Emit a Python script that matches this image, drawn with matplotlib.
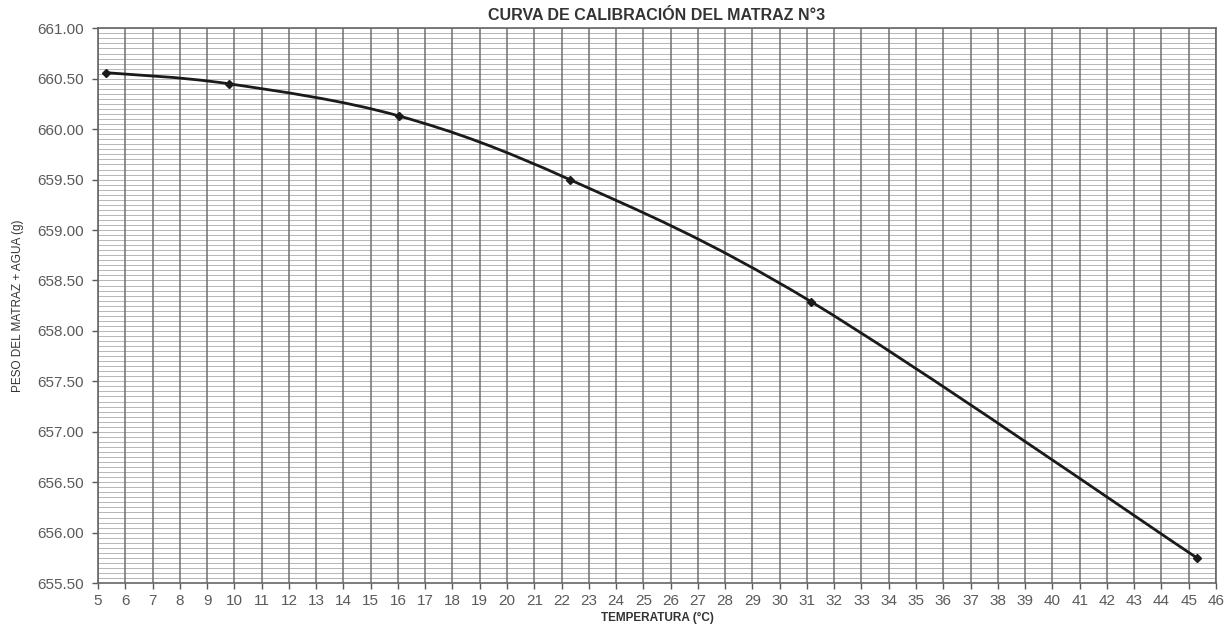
import numpy as np
import matplotlib.pyplot as plt
from matplotlib.path import Path
from matplotlib.patches import PathPatch

plt.rcParams['font.family'] = ['Liberation Sans', 'DejaVu Sans']

temperatura = [5.3, 9.8, 16.05, 22.3, 31.15, 45.3]
peso = [660.56, 660.45, 660.13, 659.50, 658.29, 655.75]

x_ticks = list(range(5, 47))
y_ticks = [655.5 + 0.5 * i for i in range(12)]


def smooth_path(xs, ys, t=1 / 6):
    # excel-like smoothed line: catmull-rom turned into bezier segments
    pts = np.column_stack([xs, ys])
    verts = [pts[0]]
    codes = [Path.MOVETO]
    n = len(pts)
    for i in range(n - 1):
        p0 = pts[i - 1] if i > 0 else pts[i]
        p1 = pts[i]
        p2 = pts[i + 1]
        p3 = pts[i + 2] if i + 2 < n else pts[i + 1]
        c1 = p1 + (p2 - p0) * t
        c2 = p2 - (p3 - p1) * t
        verts += [c1, c2, p2]
        codes += [Path.CURVE4] * 3
    return Path(verts, codes)


fig = plt.figure(figsize=(12.27, 6.29), dpi=100)
ax = fig.add_axes([0.0799, 0.073, 0.9111, 0.882])

ax.set_xlim(5, 46)
ax.set_ylim(655.5, 661)

# graph paper
for yy in np.arange(655.5, 661.001, 0.05):
    ax.axhline(yy, color='#ababab', lw=0.6, zorder=1)
for xx in x_ticks:
    ax.axvline(xx, color='#707070', lw=1.1, zorder=1)

ax.add_patch(PathPatch(smooth_path(temperatura, peso), fill=False,
                       edgecolor='#1a1a1a', lw=2.0, zorder=3))
ax.plot(temperatura, peso, linestyle='none', marker='D', markersize=4.5,
        color='#1a1a1a', zorder=4)

ax.set_xticks(x_ticks)
ax.set_yticks(y_ticks)
ax.set_yticklabels(['%.2f' % v for v in y_ticks])
ax.tick_params(axis='both', labelsize=11, colors='#5a5a5a', length=4,
               width=1, direction='out', pad=6)
ax.tick_params(axis='x', pad=4)

for s in ax.spines.values():
    s.set_color('#666666')
    s.set_linewidth(1.2)

ax.set_title('CURVA DE CALIBRACIÓN DEL MATRAZ N°3', fontsize=11.5,
             fontweight='bold', color='#333333', pad=6)
ax.set_xlabel('TEMPERATURA (°C)', fontsize=8.5, fontweight='bold',
              color='#333333', labelpad=3)
ax.set_ylabel('PESO DEL MATRAZ + AGUA (g)', fontsize=8.5, color='#333333',
              labelpad=10)

fig.savefig('out.png', dpi=100, facecolor='white')
